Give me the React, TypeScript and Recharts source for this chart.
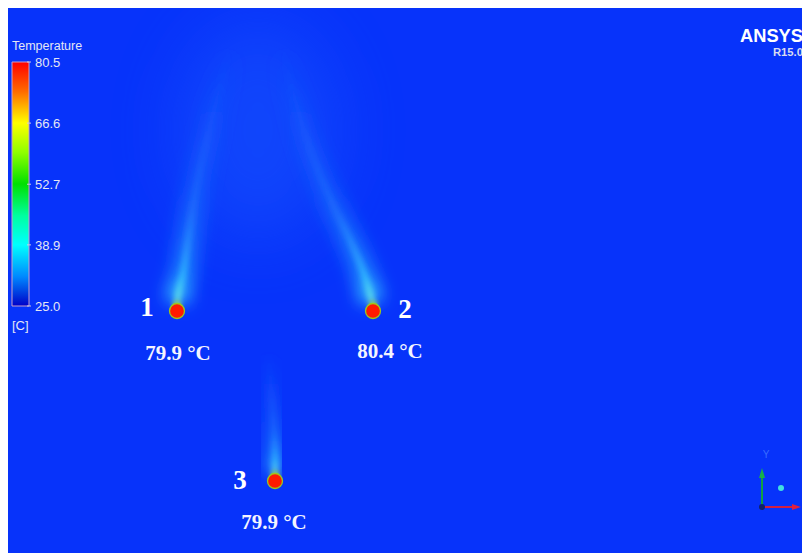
import React from "react"
import { ComposedChart, XAxis, YAxis, Line, Scatter, ReferenceArea } from "recharts"

// chart box sits on the body margin: image x 8..810, y 7..553
const CHART_W = 802
const CHART_H = 546
const OX = 8
const OY = 7

// colour legend
const tempTicks = [25.0, 38.9, 52.7, 66.6, 80.5]
const tempMin = 25.0
const tempMax = 80.5

// heat sources (image pixel coords)
const sourceIds = ["1", "2", "3"]
const sourceX = [177, 373, 275]
const sourceY = [311, 311, 481]
const sourceTemps = ["79.9 °C", "80.4 °C", "79.9 °C"]

// plume centre lines
const plume1 = [
  { x: 177, y: 302 }, { x: 179, y: 290 }, { x: 183, y: 274 }, { x: 188, y: 240 },
  { x: 193, y: 207 }, { x: 200, y: 170 }, { x: 207, y: 140 }, { x: 214, y: 110 },
  { x: 222, y: 80 }, { x: 230, y: 45 },
]
const plume2 = [
  { x: 372, y: 302 }, { x: 369, y: 290 }, { x: 364, y: 274 }, { x: 350, y: 240 },
  { x: 334, y: 207 }, { x: 320, y: 175 }, { x: 307, y: 140 }, { x: 298, y: 110 },
  { x: 290, y: 80 }, { x: 283, y: 45 },
]
const plume3 = [
  { x: 275, y: 472 }, { x: 275, y: 455 }, { x: 274, y: 430 }, { x: 272, y: 400 },
  { x: 270, y: 375 }, { x: 268, y: 352 },
]

const sources = sourceIds.map((id, i) => ({ id, x: sourceX[i], y: sourceY[i], temp: sourceTemps[i] }))

// temperature axis mapped so 80.5 -> image y 62 and 25.0 -> image y 306
const pxPerDeg = (306 - 62) / (tempMax - tempMin)
const tempDomain = [tempMin - (OY + CHART_H - 306) / pxPerDeg, tempMax + (62 - OY) / pxPerDeg]

const BG = "#0733fa"
const LEGEND_TEXT = "#e4e6f4"
const SANS = "Liberation Sans, Arial, sans-serif"
const SERIF = "Liberation Serif, Times New Roman, serif"

function TempTick({ x, y, payload }: any) {
  return (
    <g>
      <line x1={x + 17} x2={x + 21} y1={y} y2={y} stroke="#d0c8e0" />
      <text x={x + 25} y={y} dy={5} fill={LEGEND_TEXT} fontSize={13} fontFamily={SANS}>
        {payload.value.toFixed(1)}
      </text>
    </g>
  )
}

// label placement relative to each source: [number dx, number dy, temp dx, temp dy]
const labelOffsets: Record<string, number[]> = {
  "1": [-30, 5, 1, 49],
  "2": [32, 7, 17, 47],
  "3": [-35, 8, -1, 48],
}

function SourceDot({ cx, cy, payload }: any) {
  const [ndx, ndy, tdx, tdy] = labelOffsets[payload.id]
  return (
    <g>
      <circle cx={cx} cy={cy - 6} r={4.5} fill="#a8f040" opacity={0.75} filter="url(#soft2)" />
      <circle cx={cx} cy={cy} r={7.5} fill="#ff1a00" stroke="#9cc81e" strokeWidth={1.3} />
      <text x={cx + ndx} y={cy + ndy} textAnchor="middle" fill="#ffffff" fontSize={27}
        fontWeight="bold" fontFamily={SERIF}>{payload.id}</text>
      <text x={cx + tdx} y={cy + tdy} textAnchor="middle" fill="#f4f4ff" fontSize={21}
        fontWeight="bold" fontFamily={SERIF}>{payload.temp}</text>
    </g>
  )
}

export default function App() {
  const plumes = [plume1, plume2, plume3]
  return (
    <div style={{ marginTop: -1, width: CHART_W, height: CHART_H, background: BG }}>
      <ComposedChart width={CHART_W} height={CHART_H} margin={{ top: 0, right: 0, bottom: 0, left: 0 }}>
        <defs>
          <linearGradient id="tempGrad" x1="0" y1="0" x2="0" y2="1">
            <stop offset="0" stopColor="#ff0000" />
            <stop offset="0.12" stopColor="#ff6a00" />
            <stop offset="0.25" stopColor="#ffff00" />
            <stop offset="0.37" stopColor="#90ff00" />
            <stop offset="0.5" stopColor="#00e000" />
            <stop offset="0.63" stopColor="#00ffa0" />
            <stop offset="0.75" stopColor="#00ffff" />
            <stop offset="0.88" stopColor="#0088ff" />
            <stop offset="1" stopColor="#0000c8" />
          </linearGradient>
          <linearGradient id="plumeGlow" x1="0" y1="1" x2="0" y2="0">
            <stop offset="0" stopColor="#40e8ff" stopOpacity={0.8} />
            <stop offset="0.12" stopColor="#2cb8ff" stopOpacity={0.55} />
            <stop offset="0.45" stopColor="#2288ff" stopOpacity={0.32} />
            <stop offset="1" stopColor="#1c6aff" stopOpacity={0} />
          </linearGradient>
          <linearGradient id="plumeCore" x1="0" y1="1" x2="0" y2="0">
            <stop offset="0" stopColor="#80ffd8" stopOpacity={1} />
            <stop offset="0.1" stopColor="#3ce0ff" stopOpacity={0.75} />
            <stop offset="0.35" stopColor="#3aa8ff" stopOpacity={0.3} />
            <stop offset="1" stopColor="#3080ff" stopOpacity={0} />
          </linearGradient>
          <filter id="soft30" x="-100%" y="-100%" width="300%" height="300%">
            <feGaussianBlur stdDeviation="35" />
          </filter>
          <filter id="soft8" x="-100%" y="-20%" width="300%" height="140%">
            <feGaussianBlur stdDeviation="8" />
          </filter>
          <filter id="soft3" x="-100%" y="-20%" width="300%" height="140%">
            <feGaussianBlur stdDeviation="3" />
          </filter>
          <filter id="soft2" x="-100%" y="-100%" width="300%" height="300%">
            <feGaussianBlur stdDeviation="2" />
          </filter>
        </defs>

        {/* faint warm haze above the two upper sources */}
        <ellipse cx={258 - OX} cy={130 - OY} rx={80} ry={110} fill="#2c74ff" opacity={0.28} filter="url(#soft30)" />

        <XAxis type="number" dataKey="x" xAxisId="pos" domain={[OX, OX + CHART_W]} hide allowDataOverflow />
        <YAxis type="number" dataKey="y" yAxisId="pos" domain={[OY, OY + CHART_H]} reversed hide allowDataOverflow />
        <YAxis
          yAxisId="temp"
          type="number"
          domain={tempDomain}
          ticks={tempTicks}
          width={4}
          mirror
          axisLine={false}
          tickLine={false}
          tickSize={0}
          tick={<TempTick />}
          allowDataOverflow
        />

        <ReferenceArea xAxisId="pos" yAxisId="temp" x1={12} x2={29} y1={tempMin} y2={tempMax}
          fill="url(#tempGrad)" fillOpacity={1} stroke="#c8a0c8" strokeWidth={1} ifOverflow="visible" />

        {plumes.map((p, i) => (
          <Line key={"g" + i} xAxisId="pos" yAxisId="pos" data={p} dataKey="y" type="monotone"
            stroke="url(#plumeGlow)" strokeWidth={i === 2 ? 16 : 24} dot={false} filter="url(#soft8)"
            isAnimationActive={false} />
        ))}
        {plumes.map((p, i) => (
          <Line key={"c" + i} xAxisId="pos" yAxisId="pos" data={p} dataKey="y" type="monotone"
            stroke="url(#plumeCore)" strokeWidth={5} dot={false} filter="url(#soft3)"
            isAnimationActive={false} />
        ))}

        <Scatter xAxisId="pos" yAxisId="pos" data={sources} dataKey="y" shape={<SourceDot />}
          isAnimationActive={false} />

        <text x={12 - OX} y={50 - OY} fill={LEGEND_TEXT} fontSize={12.5} fontFamily={SANS}>Temperature</text>
        <text x={12 - OX} y={330 - OY} fill={LEGEND_TEXT} fontSize={13} fontFamily={SANS}>[C]</text>

        <text x={803 - OX} y={42 - OY} textAnchor="end" fill="#ffffff" fontSize={19} fontWeight="bold"
          fontFamily={SANS} textLength={63} lengthAdjust="spacingAndGlyphs">ANSYS</text>
        <text x={803 - OX} y={56 - OY} textAnchor="end" fill="#d8dcf0" fontSize={10.5} fontWeight="bold"
          fontFamily={SANS} textLength={30} lengthAdjust="spacingAndGlyphs">R15.0</text>

        <g>
          <line x1={762 - OX} y1={507 - OY} x2={762 - OX} y2={476 - OY} stroke="#12a040" strokeWidth={2} />
          <polygon points={`${759 - OX},${478 - OY} ${765 - OX},${478 - OY} ${762 - OX},${468 - OY}`} fill="#18b048" />
          <line x1={762 - OX} y1={507 - OY} x2={794 - OX} y2={507 - OY} stroke="#d02040" strokeWidth={2} />
          <polygon points={`${792 - OX},${504 - OY} ${792 - OX},${510 - OY} ${801 - OX},${507 - OY}`} fill="#e02040" />
          <circle cx={762 - OX} cy={507 - OY} r={3} fill="#10206a" />
          <circle cx={781 - OX} cy={488 - OY} r={3} fill="#40e0e0" />
          <text x={766 - OX} y={458 - OY} textAnchor="middle" fill="#3a6cff" fontSize={10} fontFamily={SANS}>Y</text>
        </g>
      </ComposedChart>
    </div>
  )
}
